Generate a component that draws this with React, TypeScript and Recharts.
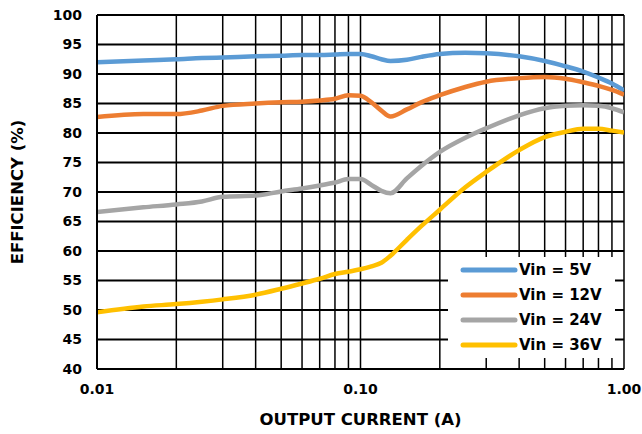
import { LineChart, Line, XAxis, YAxis, CartesianGrid, Legend, Label } from "recharts";

// output current (A), shared by all four curves
const current = [
  0.01, 0.015, 0.02, 0.025, 0.03, 0.04, 0.05, 0.06, 0.07, 0.08, 0.09, 0.1, 0.11, 0.12, 0.13,
  0.15, 0.17, 0.2, 0.25, 0.3, 0.4, 0.5, 0.6, 0.7, 0.8, 0.9, 1.0,
];

const vin5 = [
  92.0, 92.3, 92.5, 92.7, 92.8, 93.0, 93.1, 93.2, 93.2, 93.3, 93.4, 93.4, 93.0, 92.5, 92.2,
  92.4, 92.9, 93.4, 93.6, 93.5, 93.0, 92.2, 91.3, 90.4, 89.4, 88.4, 87.2,
];
const vin12 = [
  82.7, 83.2, 83.2, 83.8, 84.6, 85.0, 85.2, 85.3, 85.5, 85.8, 86.4, 86.3, 85.2, 83.8, 82.8,
  84.0, 85.2, 86.4, 87.8, 88.7, 89.3, 89.5, 89.2, 88.6, 88.0, 87.3, 86.5,
];
const vin24 = [
  66.6, 67.4, 67.9, 68.4, 69.2, 69.4, 70.1, 70.6, 71.1, 71.6, 72.2, 72.2, 71.2, 70.2, 69.8,
  72.3, 74.4, 76.8, 79.2, 80.8, 83.0, 84.2, 84.6, 84.7, 84.6, 84.2, 83.5,
];
const vin36 = [
  49.6, 50.6, 51.0, 51.4, 51.8, 52.6, 53.6, 54.5, 55.3, 56.1, 56.5, 56.9, 57.4, 58.0, 59.2,
  61.9, 64.2, 67.0, 70.8, 73.4, 77.1, 79.3, 80.2, 80.7, 80.7, 80.4, 80.1,
];

const seriesNames = ["Vin = 5V", "Vin = 12V", "Vin = 24V", "Vin = 36V"];

const xTicks = [
  0.01, 0.02, 0.03, 0.04, 0.05, 0.06, 0.07, 0.08, 0.09,
  0.1, 0.2, 0.3, 0.4, 0.5, 0.6, 0.7, 0.8, 0.9, 1,
];
const xLabels: Record<string, string> = { "0.01": "0.01", "0.1": "0.10", "1": "1.00" };
const yTicks = [40, 45, 50, 55, 60, 65, 70, 75, 80, 85, 90, 95, 100];

const data = current.map((x, i) => ({
  x,
  v5: vin5[i],
  v12: vin12[i],
  v24: vin24[i],
  v36: vin36[i],
}));

const FONT = "'DejaVu Sans', Arial, sans-serif";

const renderLegend = (props: any) => {
  const items = [...(props.payload || [])].sort(
    (a: any, b: any) => seriesNames.indexOf(a.value) - seriesNames.indexOf(b.value)
  );
  return (
    <div
      style={{
        background: "#fff",
        width: 167,
        height: 101,
        boxSizing: "border-box",
        paddingTop: 1,
        paddingLeft: 12,
      }}
    >
      {items.map((entry: any) => (
        <div key={entry.value} style={{ display: "flex", alignItems: "center", height: 24.8 }}>
          <svg width={58} height={8}>
            <line x1={3} y1={4} x2={55} y2={4} stroke={entry.color} strokeWidth={5} strokeLinecap="round" />
          </svg>
          <span style={{ fontFamily: FONT, fontWeight: "bold", fontSize: 15, color: "#000", marginLeft: 1 }}>
            {entry.value}
          </span>
        </div>
      ))}
    </div>
  );
};

const YTitle = (props: any) => {
  const vb = props.viewBox;
  const cx = 17;
  const cy = vb.y + vb.height / 2;
  return (
    <text
      x={cx}
      y={cy}
      transform={`rotate(-90 ${cx} ${cy})`}
      textAnchor="middle"
      dominantBaseline="central"
      fontFamily={FONT}
      fontWeight="bold"
      fontSize={16.5}
      fill="#000"
    >
      EFFICIENCY (%)
    </text>
  );
};

const XTitle = (props: any) => {
  const vb = props.viewBox;
  return (
    <text
      x={vb.x + vb.width / 2}
      y={425}
      textAnchor="middle"
      fontFamily={FONT}
      fontWeight="bold"
      fontSize={16.5}
      fill="#000"
    >
      OUTPUT CURRENT (A)
    </text>
  );
};

const tickStyle = { fontFamily: FONT, fontWeight: "bold", fontSize: 14, fill: "#000" };

export default function App() {
  return (
    <div style={{ position: "absolute", left: 0, top: 0, background: "#fff" }}>
      <LineChart width={642} height={434} data={data} margin={{ top: 15, right: 18, left: 0, bottom: 7 }}>
        <CartesianGrid vertical={false} stroke="#000" strokeWidth={2} />
        <CartesianGrid horizontal={false} stroke="#000" strokeWidth={1.5} />
        <XAxis
          dataKey="x"
          type="number"
          scale="log"
          domain={[0.01, 1]}
          ticks={xTicks}
          allowDataOverflow
          height={58}
          tickLine={false}
          tickSize={0}
          tickMargin={15}
          axisLine={{ stroke: "#000", strokeWidth: 2 }}
          tick={tickStyle}
          tickFormatter={(v: number) => xLabels[String(v)] ?? ""}
          interval={0}
        >
          <Label content={XTitle} />
        </XAxis>
        <YAxis
          type="number"
          domain={[40, 100]}
          ticks={yTicks}
          width={97}
          tickLine={false}
          tickSize={0}
          tickMargin={15}
          axisLine={{ stroke: "#000", strokeWidth: 2 }}
          tick={tickStyle}
          interval={0}
        >
          <Label content={YTitle} />
        </YAxis>
        <Legend
          layout="vertical"
          align="center"
          verticalAlign="middle"
          content={renderLegend}
          wrapperStyle={{ left: 448, top: 257, width: 167, height: 101 }}
        />
        <Line type="monotone" dataKey="v5" name={seriesNames[0]} stroke="#5B9BD5" strokeWidth={4.5} dot={false} activeDot={false} isAnimationActive={false} />
        <Line type="monotone" dataKey="v12" name={seriesNames[1]} stroke="#ED7D31" strokeWidth={4.5} dot={false} activeDot={false} isAnimationActive={false} />
        <Line type="monotone" dataKey="v24" name={seriesNames[2]} stroke="#A5A5A5" strokeWidth={4.5} dot={false} activeDot={false} isAnimationActive={false} />
        <Line type="monotone" dataKey="v36" name={seriesNames[3]} stroke="#FFC000" strokeWidth={4.5} dot={false} activeDot={false} isAnimationActive={false} />
      </LineChart>
    </div>
  );
}
